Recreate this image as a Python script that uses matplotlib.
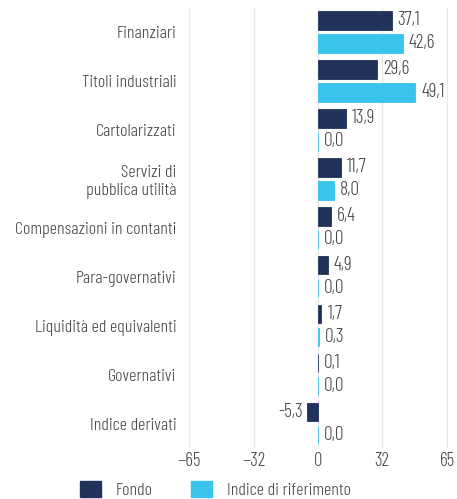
import matplotlib.pyplot as plt
from matplotlib.patches import Patch
import numpy as np

categories = ["Finanziari", "Titoli industriali", "Cartolarizzati", "Servizi di\npubblica utilità",
              "Compensazioni in contanti", "Para-governativi", "Liquidità ed equivalenti",
              "Governativi", "Indice derivati"]
fondo = [37.1, 29.6, 13.9, 11.7, 6.4, 4.9, 1.7, 0.1, -5.3]
indice = [42.6, 49.1, 0.0, 8.0, 0.0, 0.0, 0.3, 0.0, 0.0]
ticks = [-65, -32, 0, 32, 65]

navy = "#22335b"
cyan = "#3ac4ec"
text_col = "#454545"
plt.rcParams['font.family'] = ['Barlow Condensed', 'DejaVu Sans']
plt.rcParams['font.weight'] = 300

fig = plt.figure(figsize=(4.57, 4.99), dpi=100)
ax = fig.add_axes([189 / 457, 1 - 448 / 499, 259 / 457, 440.5 / 499])

y = np.arange(len(categories))
off = 0.235
h = 0.38
ax.barh(y - off, fondo, height=h, color=navy, edgecolor=navy, linewidth=0.6, zorder=3)
ax.barh(y + off, indice, height=h, color=cyan, edgecolor=cyan, linewidth=0.6, zorder=3)

def fmt(v):
    return f"{v:.1f}".replace(".", ",")

# etichette dei valori
for yi, v in zip(y - off, fondo):
    if v < 0:
        ax.text(v - 2.0, yi, fmt(v), ha="right", va="center", fontsize=14, color=text_col)
    else:
        ax.text(v + 3.0, yi, fmt(v), ha="left", va="center", fontsize=14, color=text_col)
for yi, v in zip(y + off, indice):
    ax.text(v + 3.0, yi, fmt(v), ha="left", va="center", fontsize=14, color=text_col)

ax.set_xlim(-65, 65.5)
ax.set_ylim(8.5, -0.5)
ax.set_xticks(ticks)
ax.set_xticklabels([str(t).replace("-", "\u2212") for t in ticks])
ax.set_yticks(y)
ax.set_yticklabels(categories, fontsize=13, color=text_col, linespacing=1.15)
ax.tick_params(axis="both", length=0, colors=text_col)
ax.tick_params(axis="y", pad=9)
ax.tick_params(axis="x", labelsize=13.5, pad=3)
ax.grid(axis="x", color="#e6e6e6", linewidth=1, zorder=0)
for s in ax.spines.values():
    s.set_visible(False)

handles = [Patch(color=navy, label="Fondo"), Patch(color=cyan, label="Indice di riferimento")]
fig.legend(handles=handles, loc="center left", bbox_to_anchor=(80 / 457, 1 - 490 / 499), ncol=2,
           frameon=False, fontsize=13, handlelength=1.15, handleheight=0.95,
           columnspacing=2.1, handletextpad=0.85, labelcolor=text_col,
           borderpad=0, borderaxespad=0)

fig.savefig("out.png", dpi=100)
